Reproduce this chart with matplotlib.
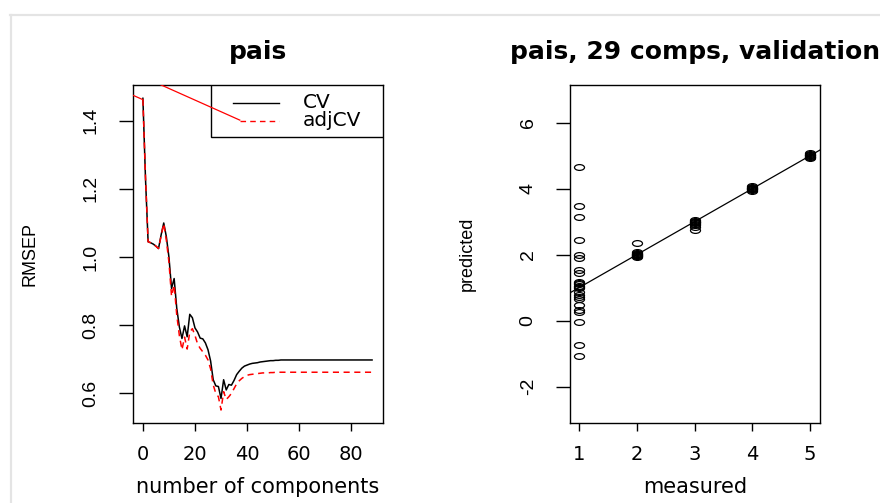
import numpy as np
import matplotlib.pyplot as plt
from matplotlib.path import Path
from matplotlib.transforms import Affine2D
from matplotlib.lines import Line2D
from matplotlib.patches import Rectangle

plt.rcParams['font.family'] = ['DejaVu Sans']
plt.rcParams['axes.unicode_minus'] = False

# --- left panel: RMSEP against number of components ---
n_comps = np.arange(0, 89)
cv = [1.466, 1.230, 1.045, 1.042, 1.038, 1.032, 1.025, 1.065, 1.100, 1.060,
      1.000, 0.908, 0.937, 0.850, 0.795, 0.761, 0.798, 0.766, 0.832, 0.822,
      0.792, 0.780, 0.762, 0.760, 0.748, 0.728, 0.695, 0.640, 0.622, 0.620,
      0.585, 0.640, 0.610, 0.626, 0.624, 0.638, 0.655, 0.665, 0.674, 0.680,
      0.683, 0.686, 0.688, 0.689, 0.690, 0.692, 0.693, 0.694, 0.695, 0.696,
      0.696, 0.697, 0.697] + [0.698] * 36
adjcv = [1.462, 1.235, 1.045, 1.042, 1.038, 1.032, 1.025, 1.062, 1.098, 1.050,
         0.985, 0.885, 0.918, 0.830, 0.770, 0.728, 0.765, 0.730, 0.780, 0.790,
         0.770, 0.745, 0.732, 0.722, 0.712, 0.698, 0.672, 0.625, 0.600, 0.590,
         0.551, 0.605, 0.582, 0.590, 0.600, 0.614, 0.628, 0.637, 0.644, 0.649,
         0.653, 0.655, 0.656, 0.657, 0.658, 0.659, 0.660, 0.660, 0.660, 0.661,
         0.661] + [0.662] * 38

# stray red segments seen in the original graphics device
stray_a_x = [-8.0, 0.0]
stray_a_y = [1.489, 1.462]
stray_b_x = [0.0, 37.2]
stray_b_y = [1.529, 1.402]

# --- right panel: predicted vs measured ---
meas_1 = [1] * 24
pred_1 = [4.67, 3.48, 3.15, 2.45, 1.99, 1.90, 1.54, 1.45, 1.18, 1.14, 1.10,
          1.06, 1.02, 0.99, 0.78, 0.65, 0.48, 0.32, 0.27, -0.03, -0.74, -1.07,
          0.88, 0.72]
meas_2 = [2] * 10
pred_2 = [1.92, 1.95, 1.97, 1.99, 2.00, 2.01, 2.03, 2.05, 2.07, 2.35]
meas_3 = [3] * 9
pred_3 = [3.06, 3.03, 3.00, 2.98, 2.96, 2.93, 2.90, 2.83, 2.75]
meas_4 = [4] * 8
pred_4 = [3.93, 3.96, 3.98, 4.00, 4.01, 4.03, 4.05, 4.07]
meas_5 = [5] * 8
pred_5 = [4.92, 4.95, 4.97, 4.99, 5.01, 5.03, 5.05, 5.08]

W, H = 880, 503
fig = plt.figure(figsize=(W / 100, H / 100), dpi=100)
fig.patch.set_facecolor('white')

# light grey frame of the device
fig.add_artist(Line2D([10.5 / W, 10.5 / W], [0, 1 - 14.5 / H],
                      transform=fig.transFigure, color='#e4e4e4', lw=1.6))
fig.add_artist(Line2D([10 / W, 1], [1 - 14.5 / H, 1 - 14.5 / H],
                      transform=fig.transFigure, color='#e4e4e4', lw=1.6))

ax1 = fig.add_axes([133 / W, 80 / H, 250 / W, 338 / H])
ax2 = fig.add_axes([570 / W, 80 / H, 250 / W, 338 / H])

rot_font = ['Liberation Sans', 'DejaVu Sans']

for ax in (ax1, ax2):
    for s in ax.spines.values():
        s.set_linewidth(1.0)
    ax.tick_params(axis='x', length=5.8, width=1.0, pad=10, labelsize=14)
    ax.tick_params(axis='y', length=10, width=1.0, pad=14, labelsize=14,
                   labelrotation=90, labelfontfamily='Liberation Sans')

# left panel
ax1.plot(n_comps, cv, color='black', lw=1.1)
ax1.plot(n_comps, adjcv, color='red', lw=1.1, ls=(0, (4, 3)))
ax1.plot(stray_a_x, stray_a_y, color='red', lw=0.9, zorder=5)
ax1.plot(stray_b_x, stray_b_y, color='red', lw=0.9, zorder=5)
ax1.set_xlim(-3.8, 92.2)
ax1.set_ylim(0.513, 1.505)
ax1.set_xticks([0, 20, 40, 60, 80])
ax1.set_yticks([0.6, 0.8, 1.0, 1.2, 1.4])
ax1.set_yticklabels(['0.6', '0.8', '1.0', '1.2', '1.4'])
for lbl in ax1.get_yticklabels():
    lbl.set_va('center')

# legend box drawn like R's legend()
ax1.add_patch(Rectangle((0.311, 0.845), 0.689, 0.155, transform=ax1.transAxes,
                        facecolor='white', edgecolor='black', lw=1.0, zorder=3))
ax1.add_line(Line2D([0.399, 0.585], [0.948, 0.948], transform=ax1.transAxes,
                    color='black', lw=1.0, zorder=4))
ax1.add_line(Line2D([0.428, 0.585], [0.894, 0.894], transform=ax1.transAxes,
                    color='red', lw=1.0, ls=(0, (4, 3)), zorder=4))
ax1.text(0.679, 0.948, 'CV', transform=ax1.transAxes, fontsize=14.5,
         va='center', ha='left', zorder=4)
ax1.text(0.679, 0.894, 'adjCV', transform=ax1.transAxes, fontsize=14.5,
         va='center', ha='left', zorder=4)

ax1.text(0.5, 1.098, 'pais', transform=ax1.transAxes, fontsize=18,
         fontweight='bold', ha='center', va='center')
ax1.set_xlabel('number of components', fontsize=15)
ax1.xaxis.set_label_coords(0.5, -0.16)
ax1.set_ylabel('RMSEP', fontsize=13, family=rot_font)
ax1.yaxis.set_label_coords(-0.376, 0.5)

# right panel
ellipse = Path.unit_circle().transformed(Affine2D().scale(1.0, 0.58))
for mx, py in [(meas_1, pred_1), (meas_2, pred_2), (meas_3, pred_3),
               (meas_4, pred_4), (meas_5, pred_5)]:
    ax2.plot(mx, py, ls='none', marker=ellipse, markersize=7.2,
             markerfacecolor='none', markeredgecolor='black', mew=0.9)
ax2.axline((0, 0), slope=1, color='black', lw=0.9)
ax2.set_xlim(0.844, 5.17)
ax2.set_ylim(-3.1, 7.14)
ax2.set_xticks([1, 2, 3, 4, 5])
ax2.set_yticks([-2, 0, 2, 4, 6])
for lbl in ax2.get_yticklabels():
    lbl.set_va('center')

ax2.text(0.5, 1.098, 'pais, 29 comps, validation', transform=ax2.transAxes,
         fontsize=18, fontweight='bold', ha='center', va='center', clip_on=False)
ax2.set_xlabel('measured', fontsize=15)
ax2.xaxis.set_label_coords(0.5, -0.16)
ax2.set_ylabel('predicted', fontsize=13, family=rot_font)
ax2.yaxis.set_label_coords(-0.376, 0.5)

fig.savefig('out.png', dpi=100)
